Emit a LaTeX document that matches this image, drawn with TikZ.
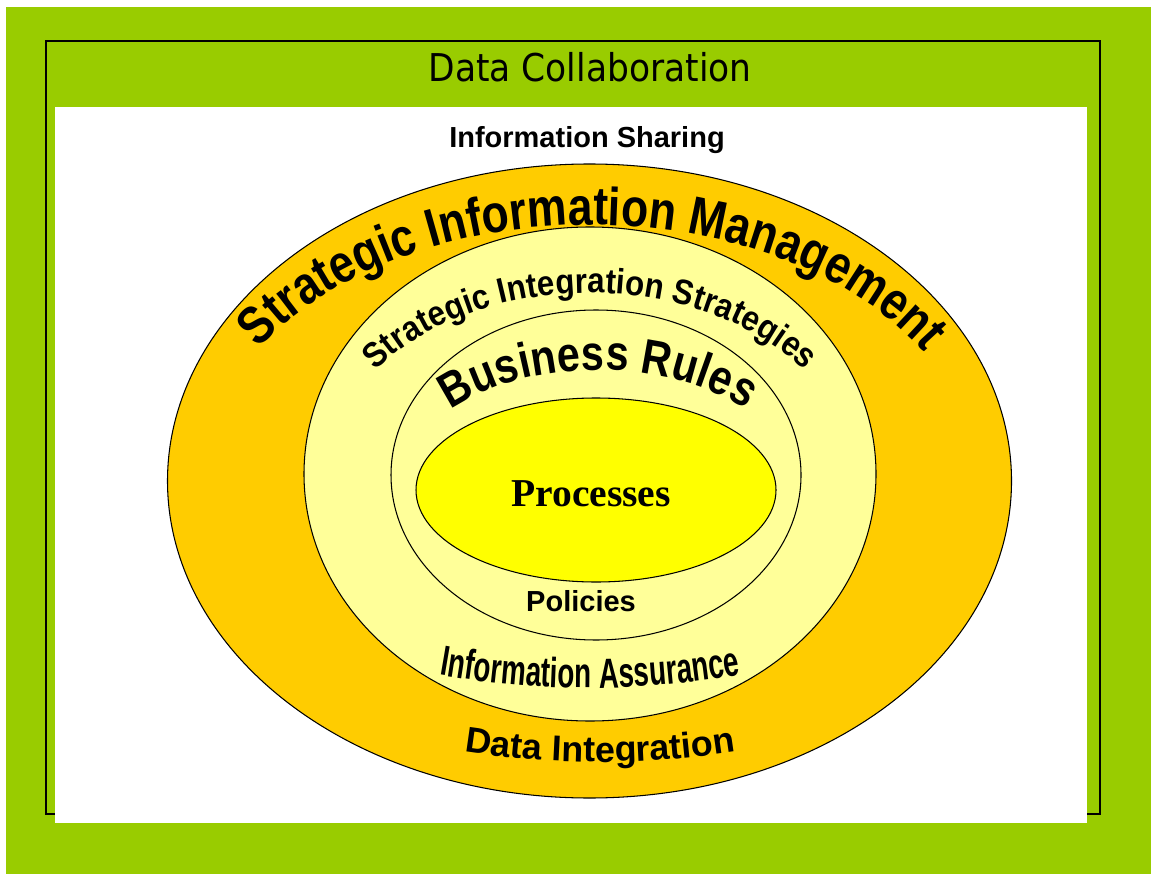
\documentclass[tikz,border=0pt]{standalone}
\usepackage{fontspec}
\setmainfont{Liberation Sans}
\newfontfamily\simfam[FakeStretch=0.83]{Liberation Sans}
\newfontfamily\sisfam[FakeStretch=0.89]{Liberation Sans}
\newfontfamily\brfam[FakeStretch=0.84]{Liberation Sans}
\newfontfamily\narrowarch[FakeStretch=0.66]{Liberation Sans}
\newfontfamily\bannerfont[FakeStretch=0.9]{DejaVu Sans}
\newfontfamily\procfont{Liberation Serif}
\usetikzlibrary{decorations.text}
\definecolor{Lime}{HTML}{99CC00}
\definecolor{Amber}{HTML}{FFCC00}
\definecolor{Cream}{HTML}{FFFF99}
\definecolor{Lemon}{HTML}{FFFF00}
% fonts for the arched words
\newcommand\simfont{\simfam\bfseries\fontsize{30.5}{32}\selectfont}
\newcommand\sisfont{\sisfam\bfseries\fontsize{20}{22}\selectfont}
\newcommand\brfont{\brfam\bfseries\fontsize{28}{30}\selectfont}
\newcommand\iafont{\narrowarch\bfseries\fontsize{24}{26}\selectfont}
\newcommand\difont{\bfseries\fontsize{20.4}{22}\selectfont}
\tikzset{
    ring/.style={draw=black, line width=0.6pt},
    arctext/.style={decorate, decoration={text along path, text align=center, text={#1}}},
    archtext/.style={decorate, decoration={text along path, text align=fit to path, text={#1}}},
    plainlabel/.style={font=\bfseries\fontsize{16.5}{18}\selectfont, text=black, inner sep=0pt, anchor=base},
}

\begin{document}
\begin{tikzpicture}[x=0.02cm, y=-0.02cm]
    \useasboundingbox (0,0) rectangle (1151,874);

    % green frame with the white panel
    \fill[Lime] (6,7) rectangle (1151,874);
    \draw[line width=1.2pt] (46,41) rectangle (1100,814);
    \fill[white] (55,107) rectangle (1087,823);
    \node[font=\bannerfont\fontsize{21.8}{24}\selectfont, inner sep=0pt, anchor=base] (collab) at (590,82) {Data Collaboration};
    \node[plainlabel] (sharing) at (587,148) {Information Sharing};

    % nested rings
    \draw[ring, fill=Amber] (589.5,481) ellipse [x radius=422, y radius=317];
    \draw[ring, fill=Cream] (590,474) ellipse [x radius=286, y radius=247];
    \draw[ring, fill=Cream] (596,475) ellipse [x radius=205, y radius=165];
    \draw[ring, fill=Lemon] (596,490) ellipse [x radius=180, y radius=92];

    % arched words, top halves
    \path[archtext={|\simfont|Strategic Information Management}]
        (590,480) ++(211:386 and 255) arc[start angle=211, end angle=329, x radius=386, y radius=255];
    \path[archtext={|\sisfont|Strategic Integration Strategies}]
        (590,475) ++(215:262 and 182) arc[start angle=215, end angle=325, x radius=262, y radius=182];
    \path[archtext={|\brfont|Business Rules}]
        (598,478) ++(219:190 and 108) arc[start angle=219, end angle=321, x radius=190, y radius=108];

    % arched words, bottom halves
    \path[arctext={|\iafont|Information Assurance}]
        (590,-184) ++(103:872) arc[start angle=103, end angle=77, radius=872];
    \path[arctext={|\difont|Data Integration}]
        (600,-114) ++(103:876) arc[start angle=103, end angle=77, radius=876];

    \node[font=\procfont\bfseries\fontsize{22.5}{24}\selectfont, inner sep=0pt, anchor=base] (proc) at (591,506) {Processes};
    \node[plainlabel] (policies) at (581,611) {Policies};
\end{tikzpicture}
\end{document}
